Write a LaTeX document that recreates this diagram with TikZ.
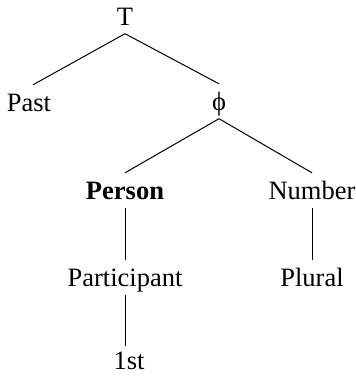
\documentclass[tikz,border=0pt]{standalone}
\usepackage{fontspec}
\setmainfont{Liberation Serif}
\begin{document}
\begin{tikzpicture}[x=1pt,y=-1pt,
  lbl/.style={anchor=base, inner xsep=0pt, inner ysep=8.5pt,
    text height=17.5pt, text depth=0pt,
    font=\fontsize{26.5}{30}\selectfont},
  branch/.style={line width=1pt}]
\useasboundingbox (0,0) rectangle (356,376);
% feature geometry nodes
\node[lbl] (T)     at (125,25)  {T};
\node[lbl] (past)  at (29,111)  {Past};
\node[lbl] (phi)   at (219,110) {ϕ};
\node[lbl, font=\fontsize{26.5}{30}\selectfont\bfseries] (person) at (125,199) {Person};
\node[lbl] (number) at (312,199) {Number};
\node[lbl] (part)   at (125,286) {Participant};
\node[lbl] (plural) at (312,286) {Plural};
\node[lbl, inner ysep=0pt] (first) at (129,369) {1st};
% branches
\draw[branch] (T.south) -- ([xshift=4pt]past.north);
\draw[branch] (T.south) -- (phi.north);
\draw[branch] (phi.south) -- (person.north);
\draw[branch] (phi.south) -- (number.north);
\draw[branch] (person.south) -- (part.north);
\draw[branch] (number.south) -- (plural.north);
\draw[branch] (part.south) -- ([yshift=5pt]part.south |- first.north);
\end{tikzpicture}
\end{document}
